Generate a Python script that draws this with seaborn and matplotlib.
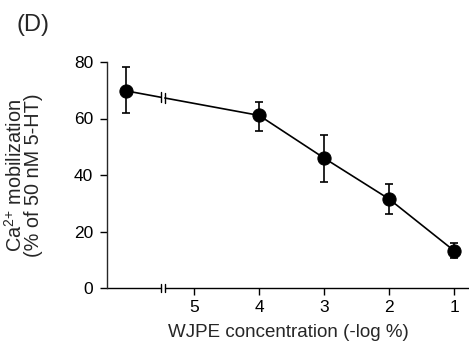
import numpy as np
import pandas as pd
import matplotlib
matplotlib.use("Agg")
import matplotlib.pyplot as plt
import seaborn as sns

# ---- data ----
conc_pos = [6.05, 4, 3, 2, 1]            # -log % (control drawn left of the axis break)
response = [69.8, 61.1, 46.0, 31.5, 13.2]
err_upper = [78.4, 65.9, 54.2, 36.9, 15.8]
err_lower = [61.9, 55.7, 37.6, 26.2, 10.5]
tick_vals = [5, 4, 3, 2, 1]
tick_labels = ["5", "4", "3", "2", "1"]
break_x = 5.48

df = pd.DataFrame({"x": conc_pos, "y": response,
                   "hi": err_upper, "lo": err_lower})

sns.set_style("ticks")
plt.rcParams["font.family"] = ["Liberation Sans", "DejaVu Sans"]
plt.rcParams["mathtext.default"] = "regular"

fig = plt.figure(figsize=(4.69, 3.56), dpi=100)
W, H = 469, 356
x0, x1, ytop, ybot = 107, 469, 62, 288
XL, XR = 6.34, 0.77
ax = fig.add_axes([x0 / W, 1 - ybot / H, (x1 - x0) / W, (ybot - ytop) / H])

lw = 1.2
# error bars
ax.errorbar(df["x"], df["y"],
            yerr=[df["y"] - df["lo"], df["hi"] - df["y"]],
            fmt="none", ecolor="black", elinewidth=lw, capsize=3.2,
            capthick=lw, zorder=2)

# connected part (points 4 .. 1)
sns.lineplot(data=df.iloc[1:], x="x", y="y", color="black", lw=lw,
             marker="o", markersize=9.5, markeredgecolor="black",
             ax=ax, zorder=3)
# control point
sns.scatterplot(data=df.iloc[:1], x="x", y="y", color="black", s=90,
                edgecolor="black", ax=ax, zorder=3)

# broken line from control to first concentration
xa, ya = df["x"].iloc[0], df["y"].iloc[0]
xb, yb = df["x"].iloc[1], df["y"].iloc[1]
gap = 0.03
def interp(xv):
    return ya + (yb - ya) * (xa - xv) / (xa - xb)
ax.plot([xa, break_x + gap], [ya, interp(break_x + gap)], color="black", lw=lw, zorder=2)
ax.plot([break_x - gap, xb], [interp(break_x - gap), yb], color="black", lw=lw, zorder=2)
for xv in (break_x + gap, break_x - gap):
    yv = interp(xv)
    ax.plot([xv, xv], [yv - 1.7, yv + 1.7], color="black", lw=1.0, zorder=2)

ax.set_xlim(XL, XR)
ax.set_ylim(0, 80)
ax.set_yticks([0, 20, 40, 60, 80])
ax.set_xticks(tick_vals)
ax.set_xticklabels(tick_labels)

# spines
for s in ("top", "right", "bottom"):
    ax.spines[s].set_visible(False)
ax.spines["left"].set_linewidth(1.0)

# broken x-axis line
ax.plot([XL, break_x + gap], [0, 0], color="black", lw=1.0, clip_on=False, zorder=1)
ax.plot([break_x - gap, XR], [0, 0], color="black", lw=1.0, clip_on=False, zorder=1)
for xv in (break_x + gap, break_x - gap):
    ax.plot([xv, xv], [-1.4, 1.4], color="black", lw=1.0, clip_on=False, zorder=1)

ax.tick_params(axis="both", direction="out", length=5, width=1.0,
               labelsize=12.5, colors="black")
ax.tick_params(axis="x", pad=4)
ax.tick_params(axis="y", pad=5)

ax.set_xlabel("WJPE concentration (-log %)", fontsize=13.5, labelpad=6)
ax.set_ylabel("Ca$^{2{+}}$ mobilization\n(% of 50 nM 5-HT)", fontsize=14.3,
              linespacing=0.85)
ax.yaxis.set_label_coords(-0.178, 0.5)

fig.text(17 / W, 1 - 25 / H, "(D)", fontsize=17, va="center", ha="left")

fig.savefig("out.png", dpi=100)
